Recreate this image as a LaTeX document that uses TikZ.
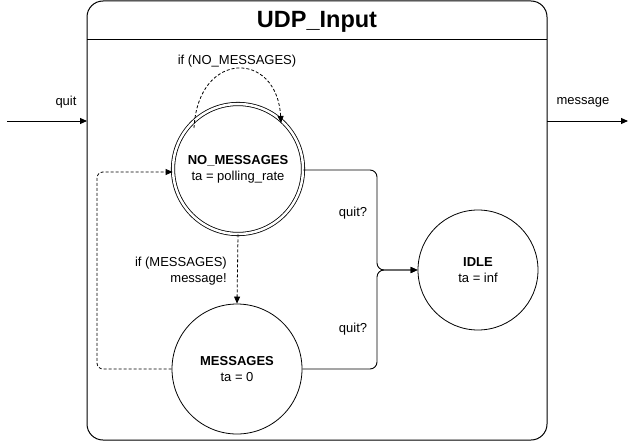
\documentclass[tikz,border=0pt]{standalone}
\usepackage{fontspec}
\setmainfont{Liberation Sans}
\usetikzlibrary{arrows.meta,calc}
\begin{document}
\begin{tikzpicture}[x=1pt,y=-1pt,
  every node/.style={font=\fontsize{13}{15}\selectfont, inner sep=0pt},
  conn/.style={line width=0.9pt, -{Triangle[length=7pt,width=6pt]}},
  dconn/.style={line width=0.8pt, dash pattern=on 3pt off 2pt, -{Triangle[length=7pt,width=6pt]}},
  state/.style={circle, draw, line width=0.8pt, minimum size=130pt, align=center},
  lbl/.style={align=center}]
\useasboundingbox (0,0) rectangle (636,441);
% outer box
\draw[line width=1pt, rounded corners=16pt] (87,1) rectangle (547,440);
\draw[line width=1pt] (87,40) -- (547,40);
\node (title) at (317,22) {\fontsize{23.5}{26}\selectfont\bfseries UDP\_Input};
% states
\node[state, double, double distance=2.5pt, minimum size=130pt] (nm) at (238,169) {};
\node[lbl] (nmt) at (238,169) {\textbf{NO\_MESSAGES}\\[1pt]ta = polling\_rate};
\node[state] (ms) at (237,369) {};
\node[lbl] (mst) at (237,369) {\textbf{MESSAGES}\\[1pt]ta = 0};
\node[state, minimum size=120pt] (idle) at (478,270) {};
\node[lbl] (idlet) at (478,270) {\textbf{IDLE}\\[1pt]ta = inf};
% ports
\coordinate (qin) at (7,121);
\coordinate (qend) at (87,121);
\coordinate (mstart) at (547,121);
\coordinate (mend) at (628,121);
\draw[conn] (qin) -- (qend);
\node (quitlbl) at (66,102) {quit};
\draw[conn] (mstart) -- (mend);
\node (msglbl) at (583,102) {message};
% quit transitions
\draw[conn, rounded corners=7pt] (nm.east |- 0,170) -- (377,170) -- (377,270) -- (idle.west);
\draw[conn, rounded corners=7pt] (ms.east) -- (377,369) -- (377,270) -- (idle.west);
\node (q1) at (353,213) {quit?};
\node (q2) at (353,329) {quit?};
% self loop
\draw[dconn] ($(nm.center)+(-44,-41)$) .. controls (198,50) and (277,50) .. ($(nm.center)+(43,-46)$);
\node (sl) at (237,61) {if (NO\_MESSAGES)};
% NO -> MESSAGES
\draw[dconn] (nm.south) -- (ms.north);
\node[align=right, anchor=east] (ml) at (227,271) {if (MESSAGES)\\[1pt]message!};
% MESSAGES -> NO
\draw[dconn, rounded corners=6pt] (ms.west) -- (97,369) -- (97,172) -- (nm.west |- 0,172);
\end{tikzpicture}
\end{document}
